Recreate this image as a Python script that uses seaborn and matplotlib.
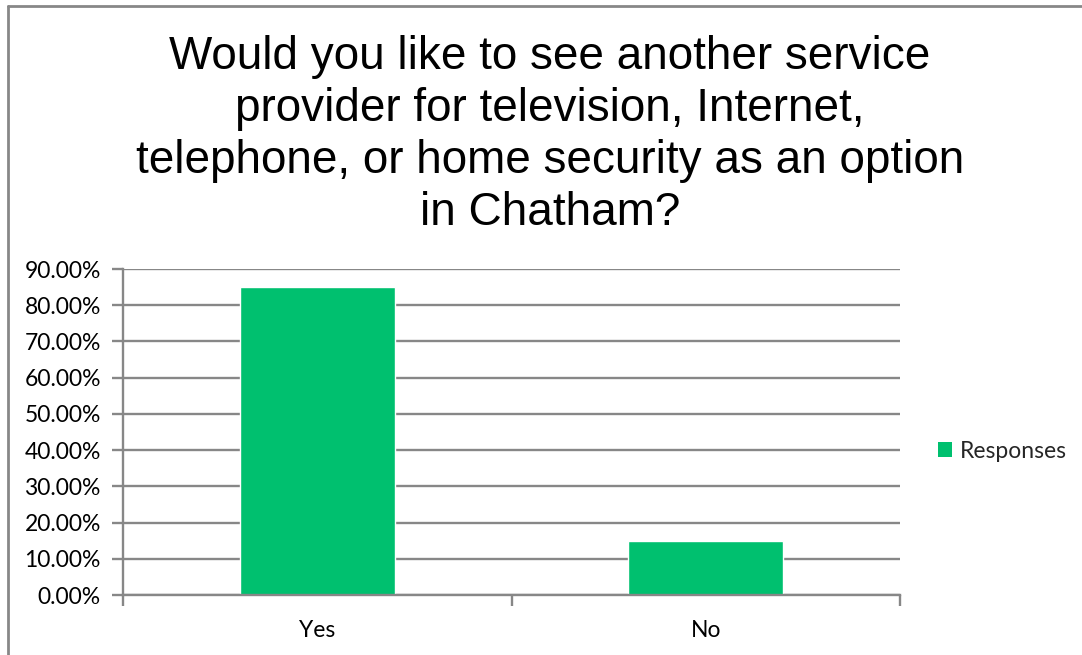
import matplotlib
matplotlib.use("Agg")
import matplotlib.pyplot as plt
from matplotlib.ticker import PercentFormatter, FixedLocator, MultipleLocator
from matplotlib.lines import Line2D
from matplotlib.patches import Patch
import seaborn as sns
import pandas as pd

categories = ["Yes", "No"]
responses = [0.85, 0.15]
title = ("Would you like to see another service\n"
         "provider for television, Internet,\n"
         "telephone, or home security as an option\n"
         "in Chatham?")

sns.set_theme(style="white")
plt.rcParams["font.family"] = ["Lato", "DejaVu Sans"]

GRAY = "#878787"
GREEN = "#00C06F"
LABEL_SIZE = 16.5

fig = plt.figure(figsize=(10.82, 6.55), dpi=100)
ax = fig.add_axes([123 / 1082, 1 - 595 / 655, (900 - 123) / 1082, (595 - 269) / 655])

df = pd.DataFrame({"answer": categories, "share": responses})
sns.barplot(data=df, x="answer", y="share", color=GREEN, width=0.4,
            saturation=1, ax=ax, zorder=3)

ax.set_xlim(-0.5, 1.5)
ax.set_ylim(0, 0.9)
ax.yaxis.set_major_locator(MultipleLocator(0.1))
ax.yaxis.set_major_formatter(PercentFormatter(1.0, decimals=2))
ax.grid(axis="y", color=GRAY, linewidth=1.7, zorder=0)
ax.grid(axis="x", visible=False)

# Category boundary ticks below the x axis
ax.xaxis.set_minor_locator(FixedLocator([-0.5, 0.5, 1.5]))
ax.tick_params(axis="x", which="major", length=0, pad=18, labelsize=LABEL_SIZE, labelcolor="black")
ax.tick_params(axis="x", which="minor", bottom=True, length=8, width=1.7, color=GRAY)
ax.tick_params(axis="y", which="major", left=True, length=8, width=1.7, color=GRAY,
               pad=8, labelsize=LABEL_SIZE, labelcolor="black")

for side in ("top", "right"):
    ax.spines[side].set_visible(False)
for side in ("left", "bottom"):
    ax.spines[side].set_color(GRAY)
    ax.spines[side].set_linewidth(1.7)
    ax.spines[side].set_zorder(4)

ax.set_xlabel("")
ax.set_ylabel("")

fig.text(550 / 1082, 1 - 35 / 655, title, ha="center", va="top", fontsize=33,
         family=["Liberation Sans", "DejaVu Sans"], linespacing=1.24, color="black")

handle = Patch(facecolor=GREEN, edgecolor="none", label="Responses")
fig.legend(handles=[handle], loc="center left", bbox_to_anchor=(938 / 1082, 1 - 451 / 655),
           frameon=False, fontsize=LABEL_SIZE, handlelength=0.6, handleheight=0.6,
           handletextpad=0.35, borderaxespad=0, borderpad=0)

# Chart area border (top and left edges)
fig.add_artist(Line2D([8 / 1082, 1.0], [1 - 6 / 655, 1 - 6 / 655], color=GRAY, linewidth=2,
                      transform=fig.transFigure))
fig.add_artist(Line2D([8 / 1082, 8 / 1082], [0.0, 1 - 6 / 655], color=GRAY, linewidth=2,
                      transform=fig.transFigure))

fig.savefig("out.png", dpi=100, facecolor="white")
